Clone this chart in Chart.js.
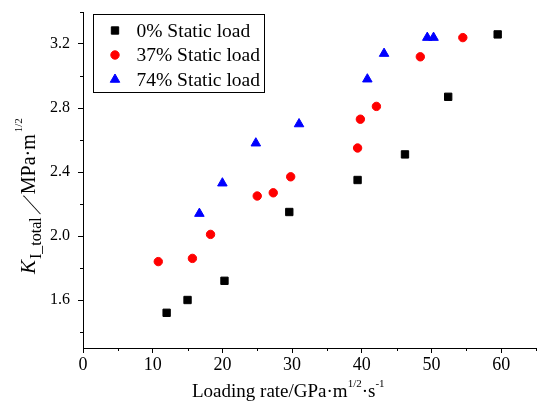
<!DOCTYPE html>
<html>
<head>
<meta charset="utf-8">
<script src="https://cdn.jsdelivr.net/npm/chart.js@4.4.0/dist/chart.umd.min.js"></script>
<style>
  html, body { margin: 0; padding: 0; background: #fff; }
</style>
</head>
<body>
<canvas id="myChart" width="537" height="412"></canvas>
<script>
// data
const seriesNames = ['0% Static load', '37% Static load', '74% Static load'];
const rate0 = [12.0, 15.0, 20.3, 29.6, 39.4, 46.2, 52.4, 59.5];
const kTotal0 = [1.52, 1.60, 1.72, 2.15, 2.35, 2.51, 2.87, 3.26];
const rate37 = [10.8, 15.7, 18.3, 25.0, 27.3, 29.8, 39.4, 39.8, 42.1, 48.4, 54.5];
const kTotal37 = [1.84, 1.86, 2.01, 2.25, 2.27, 2.37, 2.55, 2.73, 2.81, 3.12, 3.24];
const rate74 = [16.7, 20.0, 24.8, 31.0, 40.8, 43.2, 49.4, 50.3];
const kTotal74 = [2.14, 2.33, 2.58, 2.70, 2.98, 3.14, 3.24, 3.24];
const xMajorTicks = [0, 10, 20, 30, 40, 50, 60];
const xMinorTicks = [5, 15, 25, 35, 45, 55, 65];
const yMajorTicks = [1.6, 2.0, 2.4, 2.8, 3.2];
const yMinorTicks = [1.4, 1.8, 2.2, 2.6, 3.0, 3.4];

const serif = "'Liberation Serif', 'DejaVu Serif', serif";

function pairs(xs, ys) {
  return xs.map((x, i) => ({ x: x, y: ys[i] }));
}

// minor ticks, axis titles and the boxed legend
const extras = {
  id: 'extras',
  afterDraw(chart) {
    const ctx = chart.ctx;
    const xs = chart.scales.x, ys = chart.scales.y;
    const area = chart.chartArea;
    ctx.save();
    ctx.strokeStyle = '#000';
    ctx.lineWidth = 1;
    ctx.beginPath();
    xMinorTicks.forEach(v => {
      const px = Math.round(xs.getPixelForValue(v)) + 0.5;
      ctx.moveTo(px, area.bottom);
      ctx.lineTo(px, area.bottom + 3);
    });
    yMinorTicks.forEach(v => {
      const py = Math.round(ys.getPixelForValue(v)) + 0.5;
      ctx.moveTo(area.left, py);
      ctx.lineTo(area.left - 3, py);
    });
    ctx.stroke();

    ctx.fillStyle = '#000';
    ctx.textBaseline = 'alphabetic';
    ctx.textAlign = 'left';

    // x title
    let x = 192;
    const by = 397;
    const xParts = [
      ['Loading rate/GPa\u00b7m', 19, 0],
      ['1/2', 11, -10],
      ['\u00b7s', 19, 0],
      ['-1', 11, -10]
    ];
    xParts.forEach(p => {
      ctx.font = p[1] + 'px ' + serif;
      ctx.fillText(p[0], x, by + p[2]);
      x += ctx.measureText(p[0]).width;
    });

    // y title, rotated
    ctx.translate(35, 274);
    ctx.rotate(-Math.PI / 2);
    let t = 0;
    ctx.font = 'italic 21px ' + serif;
    ctx.fillText('K', t, 0);
    t += ctx.measureText('K').width + 1;
    ctx.font = '16px ' + serif;
    ctx.fillText('I_total', t, 6);
    t += ctx.measureText('I_total').width + 1;
    ctx.save();
    ctx.font = '25px ' + serif;
    ctx.translate(t + 2, 5);
    ctx.transform(1, 0, -0.75, 1, 0, 0);
    ctx.fillText('/', 0, 0);
    ctx.restore();
    t += 22;
    ctx.font = '20px ' + serif;
    ctx.fillText('MPa\u00b7m', t, 0);
    t += ctx.measureText('MPa\u00b7m').width + 2;
    ctx.font = '11px ' + serif;
    ctx.fillText('1/2', t, -13);
    ctx.restore();

    // legend
    ctx.save();
    ctx.strokeStyle = '#000';
    ctx.lineWidth = 1;
    ctx.strokeRect(93.5, 14.5, 171, 78);
    const rowY = [30.5, 55, 79.5];
    chart.data.datasets.forEach((ds, i) => {
      const opts = {
        pointStyle: ds.pointStyle,
        radius: ds.pointRadius,
        rotation: 0,
        borderWidth: 1
      };
      ctx.fillStyle = ds.backgroundColor;
      ctx.strokeStyle = ds.borderColor;
      Chart.helpers.drawPoint(ctx, opts, 115, rowY[i]);
      ctx.fillStyle = '#000';
      ctx.font = '19.5px ' + serif;
      ctx.textBaseline = 'middle';
      ctx.fillText(ds.label, 136.5, rowY[i] + 1);
    });
    ctx.restore();
  }
};

const ctx = document.getElementById('myChart').getContext('2d');
const myChart = new Chart(ctx, {
  type: 'scatter',
  data: {
    datasets: [{
      label: seriesNames[0],
      data: pairs(rate0, kTotal0),
      pointStyle: 'rect',
      pointRadius: 5.2,
      backgroundColor: '#000000',
      borderColor: '#000000',
      borderWidth: 1
    }, {
      label: seriesNames[1],
      data: pairs(rate37, kTotal37),
      pointStyle: 'circle',
      pointRadius: 4.2,
      backgroundColor: '#ff0000',
      borderColor: '#ff0000',
      borderWidth: 1
    }, {
      label: seriesNames[2],
      data: pairs(rate74, kTotal74),
      pointStyle: 'triangle',
      pointRadius: 5.5,
      backgroundColor: '#0000ff',
      borderColor: '#0000ff',
      borderWidth: 1
    }]
  },
  options: {
    responsive: false,
    animation: false,
    events: [],
    layout: { autoPadding: false, padding: { top: 12, right: 1, left: 0, bottom: 0 } },
    plugins: {
      legend: { display: false },
      tooltip: { enabled: false }
    },
    scales: {
      x: {
        type: 'linear',
        min: 0,
        max: 65,
        afterBuildTicks: s => { s.ticks = xMajorTicks.map(v => ({ value: v })); },
        afterFit: s => { s.height = 64; s.paddingLeft = 0; s.paddingRight = 0; },
        ticks: {
          color: '#000',
          font: { family: serif, size: 18 },
          padding: 1,
          maxRotation: 0,
          autoSkip: false
        },
        grid: { drawOnChartArea: false, tickLength: 5, tickColor: '#000' },
        border: { color: '#000', width: 1 }
      },
      y: {
        min: 1.3,
        max: 3.4,
        afterBuildTicks: s => { s.ticks = yMajorTicks.map(v => ({ value: v })); },
        afterFit: s => { s.width = 83; s.paddingTop = 0; s.paddingBottom = 0; },
        ticks: {
          color: '#000',
          font: { family: serif, size: 16 },
          padding: 8,
          callback: v => v.toFixed(1)
        },
        grid: { drawOnChartArea: false, tickLength: 5, tickColor: '#000' },
        border: { color: '#000', width: 1 }
      }
    }
  },
  plugins: [extras]
});
</script>
</body>
</html>
